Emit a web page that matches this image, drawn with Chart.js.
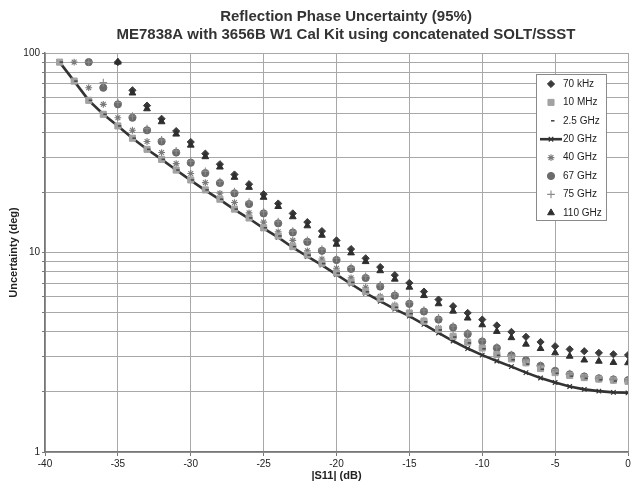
<!DOCTYPE html>
<html>
<head>
<meta charset="utf-8">
<script src="https://cdn.jsdelivr.net/npm/chart.js@4/dist/chart.umd.min.js"></script>
<style>
  html, body { margin: 0; padding: 0; background: #fff; }
  #wrap { width: 637px; height: 487px; position: relative; }
</style>
</head>
<body>
<div id="wrap"><canvas id="c"></canvas></div>
<script>
// ---- Data ----
const titleLines = ['Reflection Phase Uncertainty (95%)', 'ME7838A with 3656B W1 Cal Kit using concatenated SOLT/SSST'];
const xTitle = '|S11| (dB)';
const yTitle = 'Uncertainty (deg)';

const s11 = [-39,-38,-37,-36,-35,-34,-33,-32,-31,-30,-29,-28,-27,-26,-25,-24,-23,-22,-21,-20,
             -19,-18,-17,-16,-15,-14,-13,-12,-11,-10,-9,-8,-7,-6,-5,-4,-3,-2,-1,0];

const seriesNames = ['70 kHz','10 MHz','2.5 GHz','20 GHz','40 GHz','67 GHz','75 GHz','110 GHz'];

const unc70kHz = [null,null,null,null,90,65,54.5,46.8,40.6,35.8,31.3,27.7,24.6,22.0,19.6,17.6,15.7,14.2,12.8,11.5,
                  10.4,9.35,8.45,7.7,7.04,6.37,5.81,5.38,4.98,4.61,4.31,4.0,3.78,3.56,3.39,3.27,3.2,3.14,3.09,3.06];
const unc10MHz = [90,72.3,57.9,49.3,43.1,37.4,32.9,29.3,25.9,23.1,20.6,18.5,16.5,14.9,13.3,12.1,10.7,9.72,8.83,7.9,
                  7.1,6.37,5.87,5.34,4.97,4.52,4.12,3.8,3.55,3.32,3.08,2.93,2.8,2.62,2.5,2.42,2.36,2.32,2.29,2.26];
const unc2p5GHz = [90,72.3,57.9,49.3,43.1,37.4,32.9,29.3,25.9,23.1,20.6,18.5,16.5,14.9,13.3,12.1,10.7,9.7,8.8,7.88,
                  7.08,6.35,5.84,5.31,4.94,4.49,4.09,3.77,3.52,3.29,3.05,2.9,2.76,2.6,2.48,2.4,2.34,2.3,2.27,2.24];
const unc20GHz = [90,72.3,57.9,49.3,43.1,37.4,32.9,29.3,25.9,23.0,20.5,18.4,16.4,14.8,13.2,11.9,10.6,9.55,8.65,7.75,
                  6.95,6.25,5.7,5.2,4.8,4.36,3.95,3.6,3.3,3.06,2.86,2.68,2.5,2.35,2.23,2.13,2.06,2.02,1.99,1.98];
const unc40GHz = [null,90,67,55.3,47.4,41.0,36.0,31.7,27.9,24.9,22.4,19.8,17.8,15.8,14.2,12.7,11.5,10.2,9.28,8.34,
                  7.46,6.70,6.04,5.46,5.02,4.58,4.18,3.84,3.58,3.34,3.1,2.94,2.8,2.63,2.51,2.43,2.37,2.33,2.3,2.27];
const unc67GHz = [null,null,90,67,55.3,47.4,41.0,36.0,31.7,28.2,25.0,22.3,19.8,17.5,15.7,14.0,12.6,11.3,10.2,9.17,
                  8.27,7.45,6.75,6.08,5.53,5.06,4.61,4.21,3.9,3.58,3.32,3.05,2.88,2.7,2.55,2.45,2.39,2.34,2.31,2.29];
const unc75GHz = [null,null,90,71,56.5,48.3,41.8,36.7,32.3,28.7,25.5,22.7,20.2,17.9,16.0,14.3,12.8,11.5,10.4,9.35,
                  8.42,7.6,6.88,6.2,5.64,5.15,4.7,4.28,3.96,3.63,3.36,3.08,2.9,2.72,2.57,2.47,2.4,2.35,2.32,2.3];
const unc110GHz = [null,null,null,null,90,63,52.5,45.2,39.2,34.5,30.2,26.8,23.8,21.2,18.9,17.0,15.1,13.6,12.2,11.0,
                  9.95,9.0,8.1,7.35,6.7,6.08,5.53,5.08,4.69,4.34,4.02,3.74,3.47,3.3,3.14,3.02,2.89,2.85,2.81,2.80];

const xMin = -40, xMax = 0, xStep = 5;
const yGridValues = [1,2,3,4,5,6,7,8,9,10,20,30,40,50,60,70,80,90,100];
const yTickLabels = ['1','10','100'];

// ---- Styles ----
const FONT = "'Liberation Sans', Arial, sans-serif";
const styles = [
  { pointStyle: 'rectRot',  color: '#3a3a3a', radius: 3.6, bw: 1 },
  { pointStyle: 'rect',     color: '#a2a2a2', radius: 4.3, bw: 1 },
  { pointStyle: 'dash',     color: '#4a4a4a', radius: 3.5, bw: 1.6 },
  { pointStyle: 'crossRot', color: '#333333', radius: 3.2, bw: 1.2 },
  { pointStyle: 'star',     color: '#7a7a7a', radius: 3.4, bw: 1.1 },
  { pointStyle: 'circle',   color: '#6b6b6b', radius: 3.6, bw: 1 },
  { pointStyle: 'cross',    color: '#8a8a8a', radius: 3.8, bw: 1.1 },
  { pointStyle: 'triangle', color: '#2e2e2e', radius: 3.9, bw: 1 }
];
const allSeries = [unc70kHz, unc10MHz, unc2p5GHz, unc20GHz, unc40GHz, unc67GHz, unc75GHz, unc110GHz];
const drawOrder = [7, 3, 2, 4, 6, 5, 1, 0];

const datasets = seriesNames.map((name, i) => {
  const st = styles[i];
  const isLine = (i === 3);
  return {
    label: name,
    data: s11.map((x, k) => ({ x: x, y: allSeries[i][k] })).filter(p => p.y !== null),
    showLine: isLine,
    borderColor: st.color,
    backgroundColor: st.color,
    borderWidth: isLine ? 2.6 : st.bw,
    pointStyle: st.pointStyle,
    pointRadius: st.radius,
    pointBorderWidth: st.bw,
    pointBorderColor: st.color,
    pointBackgroundColor: st.color,
    pointHoverRadius: st.radius,
    tension: 0,
    order: drawOrder[i]
  };
});

// ---- Plugins ----
const titlePlugin = {
  id: 'titleLines',
  afterDraw(chart) {
    const ctx = chart.ctx;
    ctx.save();
    ctx.fillStyle = '#333';
    ctx.font = 'bold 15px ' + FONT;
    ctx.textAlign = 'center';
    ctx.textBaseline = 'middle';
    ctx.fillText(titleLines[0], 346, 17);
    ctx.fillText(titleLines[1], 346, 35);
    ctx.restore();
  }
};

const legendPlugin = {
  id: 'boxLegend',
  afterDraw(chart) {
    const ctx = chart.ctx;
    const bx = 536.5, by = 74.5, bw = 70, bh = 146;
    ctx.save();
    ctx.fillStyle = '#fff';
    ctx.fillRect(bx, by, bw, bh);
    ctx.strokeStyle = '#8a8a8a';
    ctx.lineWidth = 1;
    ctx.strokeRect(bx, by, bw, bh);
    const y0 = 84, dy = 18.4, mx = 551, tx = 563;
    seriesNames.forEach((name, i) => {
      const st = styles[i];
      const y = y0 + i * dy;
      ctx.fillStyle = st.color;
      ctx.strokeStyle = st.color;
      if (i === 3) {
        ctx.lineWidth = 2.6;
        ctx.beginPath();
        ctx.moveTo(540, y);
        ctx.lineTo(562, y);
        ctx.stroke();
      }
      ctx.lineWidth = st.bw;
      Chart.helpers.drawPoint(ctx, { pointStyle: st.pointStyle, radius: st.radius, rotation: 0, borderWidth: st.bw }, mx, y);
      ctx.fillStyle = '#222';
      ctx.font = '10px ' + FONT;
      ctx.textAlign = 'left';
      ctx.textBaseline = 'middle';
      ctx.fillText(name, tx, y);
    });
    ctx.restore();
  }
};

Chart.defaults.font.family = FONT;
Chart.defaults.color = '#222';

new Chart(document.getElementById('c'), {
  type: 'scatter',
  data: { datasets },
  options: {
    responsive: true,
    maintainAspectRatio: false,
    animation: false,
    devicePixelRatio: 1,
    layout: { padding: { top: 53, right: 9, left: 0, bottom: 0 } },
    plugins: {
      legend: { display: false },
      title: { display: false },
      tooltip: { enabled: false }
    },
    scales: {
      x: {
        type: 'linear',
        min: xMin, max: xMax,
        afterFit(scale) { scale.height = 35; },
        ticks: { stepSize: xStep, font: { size: 10 }, color: '#222', padding: 2, maxRotation: 0, autoSkip: false },
        grid: { color: '#a8a8a8', lineWidth: 1, tickLength: 4, tickColor: '#777' },
        border: { color: '#777', width: 1.5 },
        title: { display: true, text: xTitle, font: { size: 11, weight: 'bold' }, color: '#222', padding: { top: 0, bottom: 4 } }
      },
      y: {
        type: 'logarithmic',
        min: 1, max: 100,
        afterFit(scale) { scale.width = 45; },
        afterBuildTicks(scale) { scale.ticks = yGridValues.map(v => ({ value: v })); },
        ticks: {
          autoSkip: false,
          font: { size: 10 }, color: '#222', padding: 2,
          callback(value) { const s = String(value); return yTickLabels.includes(s) ? s : ''; }
        },
        grid: { color: '#a8a8a8', lineWidth: 1, tickLength: 3, tickColor: '#777' },
        border: { color: '#777', width: 1.5 },
        title: { display: true, text: yTitle, font: { size: 11, weight: 'bold' }, color: '#222', padding: { top: 7, bottom: 0 } }
      }
    }
  },
  plugins: [titlePlugin, legendPlugin]
});
</script>
</body>
</html>
